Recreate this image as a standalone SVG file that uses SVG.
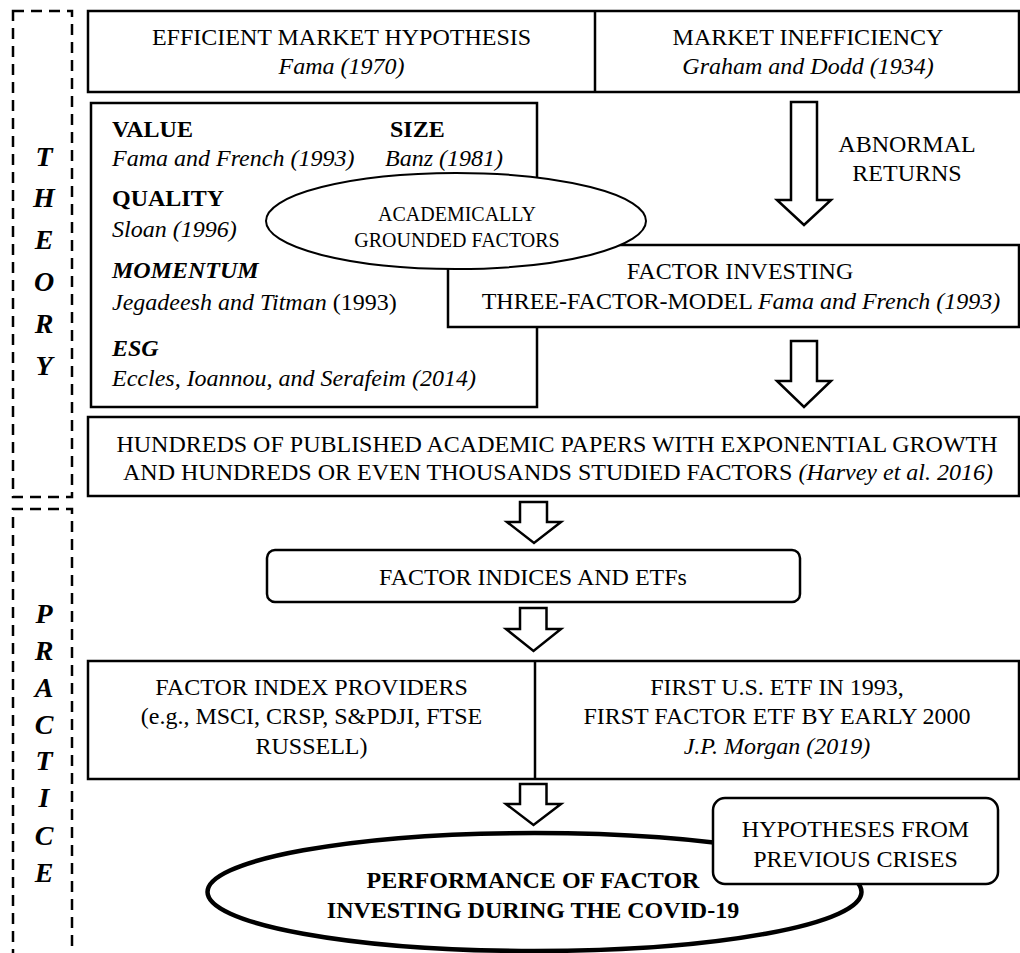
<svg xmlns="http://www.w3.org/2000/svg" width="1020" height="953" viewBox="0 0 1020 953">
<style>
text{font-family:"Liberation Serif","Times New Roman",serif;font-size:24px;fill:#000}
.c{text-anchor:middle}
.i{font-style:italic}
.b{font-weight:bold}
.bi{font-weight:bold;font-style:italic}
.box{fill:#fff;stroke:#000;stroke-width:2.5}
.dash{fill:none;stroke:#000;stroke-width:2.5;stroke-dasharray:11 7}
.arr{fill:#fff;stroke:#000;stroke-width:2.5;stroke-linejoin:miter}
.side{font-size:28px;font-weight:bold;font-style:italic;text-anchor:middle}
.s20{font-size:20px}
</style>
<rect width="1020" height="953" fill="#fff"/>

<g id="theory-band">
<path class="dash" d="M13,11 H72 V497 H13 Z"/>
<text class="side" x="44" y="166">T</text>
<text class="side" x="44" y="207">H</text>
<text class="side" x="44" y="249">E</text>
<text class="side" x="44" y="291">O</text>
<text class="side" x="44" y="333">R</text>
<text class="side" x="44" y="375">Y</text>
</g>

<g id="practice-band">
<path class="dash" d="M13,960 V509 H72 V960"/>
<text class="side" x="44" y="623">P</text>
<text class="side" x="44" y="660">R</text>
<text class="side" x="44" y="697">A</text>
<text class="side" x="44" y="734">C</text>
<text class="side" x="44" y="770">T</text>
<text class="side" x="44" y="807">I</text>
<text class="side" x="44" y="845">C</text>
<text class="side" x="44" y="882">E</text>
</g>

<g id="top-row">
<rect class="box" x="88" y="11" width="931" height="81"/>
<line x1="595" y1="11" x2="595" y2="92" stroke="#000" stroke-width="2.5"/>
<g id="emh">
<text class="c" x="341.5" y="45">EFFICIENT MARKET HYPOTHESIS</text>
<text class="c i" x="341.5" y="74">Fama (1970)</text>
</g>
<g id="inefficiency">
<text class="c" x="808" y="45">MARKET INEFFICIENCY</text>
<text class="c i" x="808" y="74">Graham and Dodd (1934)</text>
</g>
</g>

<g id="factors">
<rect class="box" x="91" y="103" width="446" height="304"/>
<text class="b" x="112" y="137">VALUE</text>
<text class="i" x="112" y="166">Fama and French (1993)</text>
<text class="b" x="390" y="137">SIZE</text>
<text class="i" x="385" y="166">Banz (1981)</text>
<text class="b" x="112" y="206">QUALITY</text>
<text class="i" x="112" y="237">Sloan (1996)</text>
<text class="bi" x="112" y="278">MOMENTUM</text>
<text x="112" y="310"><tspan class="i">Jegadeesh and Titman</tspan> (1993)</text>
<text class="bi" x="112" y="356">ESG</text>
<text class="i" x="112" y="386">Eccles, Ioannou, and Serafeim (2014)</text>
</g>

<g id="factor-investing">
<rect class="box" x="448" y="245" width="571" height="82"/>
<text class="c" x="740" y="279">FACTOR INVESTING</text>
<text class="c" x="741" y="309">THREE-FACTOR-MODEL <tspan class="i">Fama and French (1993)</tspan></text>
</g>

<g id="academic">
<ellipse cx="456" cy="221" rx="190" ry="48" fill="#fff" stroke="#000" stroke-width="2"/>
<text class="c s20" x="457" y="221">ACADEMICALLY</text>
<text class="c s20" x="457" y="247">GROUNDED FACTORS</text>
</g>

<g id="abnormal-label">
<text class="c" x="907" y="152">ABNORMAL</text>
<text class="c" x="907" y="181">RETURNS</text>
</g>

<g id="papers">
<rect class="box" x="88" y="417" width="931" height="79"/>
<text class="c" x="557" y="452">HUNDREDS OF PUBLISHED ACADEMIC PAPERS WITH EXPONENTIAL GROWTH</text>
<text class="c" x="558" y="480">AND HUNDREDS OR EVEN THOUSANDS STUDIED FACTORS <tspan class="i">(Harvey et al. 2016)</tspan></text>
</g>

<g id="indices">
<rect class="box" x="267" y="550" width="533" height="52" rx="8"/>
<text class="c" x="533" y="585">FACTOR INDICES AND ETFs</text>
</g>

<g id="providers-row">
<rect class="box" x="88" y="661" width="931" height="118"/>
<line x1="535" y1="661" x2="535" y2="779" stroke="#000" stroke-width="2.5"/>
<g id="providers">
<text class="c" x="311.5" y="695">FACTOR INDEX PROVIDERS</text>
<text class="c" x="311.5" y="724">(e.g., MSCI, CRSP, S&amp;PDJI, FTSE</text>
<text class="c" x="311.5" y="754">RUSSELL)</text>
</g>
<g id="first-etf">
<text class="c" x="777" y="695">FIRST U.S. ETF IN 1993,</text>
<text class="c" x="777" y="724">FIRST FACTOR ETF BY EARLY 2000</text>
<text class="c i" x="777" y="754">J.P. Morgan (2019)</text>
</g>
</g>

<g id="connectors">
<path class="arr" d="M791,102 H817 V200 H831 L804,225 L777,200 H791 Z"/>
<path class="arr" d="M791,341 H817 V381 H831 L804,407 L777,381 H791 Z"/>
<path class="arr" d="M520,502 H547 V522 H561 L534,543 L507,522 H520 Z"/>
<path class="arr" d="M520,608 H546.5 V629 H561 L533.5,651 L506,629 H520 Z"/>
<path class="arr" d="M520,784 H546.5 V804 H561 L533.5,825 L506,804 H520 Z"/>
</g>

<g id="covid">
<ellipse cx="534.5" cy="892" rx="327" ry="59" fill="#fff" stroke="#000" stroke-width="4.5"/>
<text class="c b" x="533" y="888">PERFORMANCE OF FACTOR</text>
<text class="c b" x="533" y="918">INVESTING DURING THE COVID-19</text>
</g>

<g id="hypotheses">
<rect class="box" x="713" y="798" width="285" height="86" rx="12"/>
<text class="c" x="855.5" y="837">HYPOTHESES FROM</text>
<text class="c" x="855.5" y="867">PREVIOUS CRISES</text>
</g>
</svg>
